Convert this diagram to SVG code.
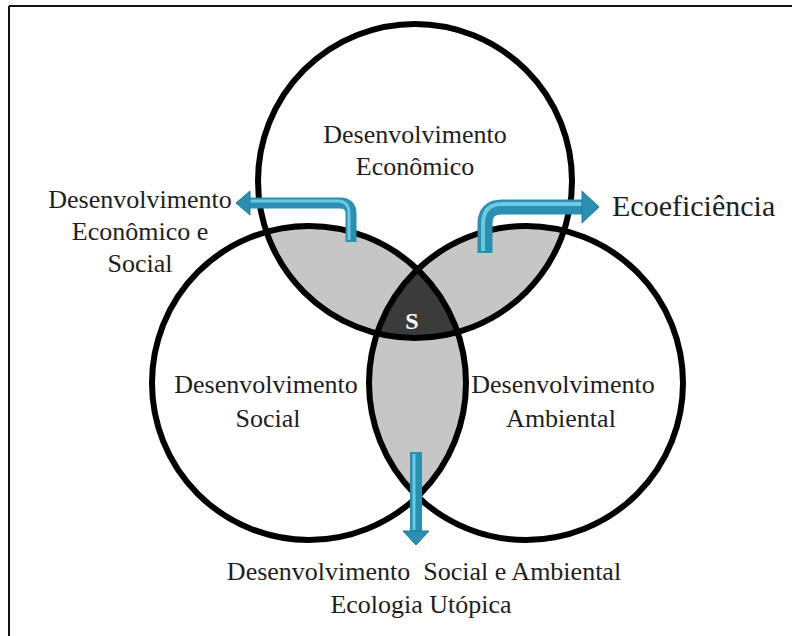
<svg xmlns="http://www.w3.org/2000/svg" width="792" height="636" viewBox="0 0 792 636">
<style>
text{font-family:"Liberation Serif","Times New Roman",serif;font-size:26px;fill:#1e1e1e;text-anchor:middle;white-space:pre}
.ring{fill:none;stroke:#000;stroke-width:6}
.arrow{fill:none;stroke:#2a8fb0;stroke-linecap:butt}
.hl{fill:none;stroke:#6cc9e2;stroke-linecap:butt}
.head{fill:#2a8fb0;stroke:#1f7a96;stroke-width:1}
</style>
<defs>
<clipPath id="cT"><circle cx="415" cy="181" r="157"/></clipPath>
<clipPath id="cL"><circle cx="309" cy="383" r="157"/></clipPath>
<clipPath id="cR"><circle cx="526" cy="383" r="157"/></clipPath>
</defs>
<rect width="792" height="636" fill="#fff"/>
<line x1="9" y1="6" x2="792" y2="6" stroke="#111" stroke-width="2"/>
<line x1="9" y1="6" x2="9" y2="636" stroke="#111" stroke-width="2"/>
<g id="overlaps">
<g clip-path="url(#cT)"><circle cx="309" cy="383" r="157" fill="#c6c6c6"/><circle cx="526" cy="383" r="157" fill="#c6c6c6"/></g>
<g clip-path="url(#cL)"><circle cx="526" cy="383" r="157" fill="#c6c6c6"/></g>
<g clip-path="url(#cT)"><g clip-path="url(#cL)"><circle cx="526" cy="383" r="157" fill="#3b3b3b"/></g></g>
</g>
<g id="economico"><circle class="ring" cx="415" cy="181" r="157"/><text x="415" y="143">Desenvolvimento</text><text x="415" y="175">Econômico</text></g>
<g id="social"><circle class="ring" cx="309" cy="383" r="157"/><text x="266" y="393">Desenvolvimento</text><text x="268" y="427">Social</text></g>
<g id="ambiental"><circle class="ring" cx="526" cy="383" r="157"/><text x="563" y="393">Desenvolvimento</text><text x="561" y="427">Ambiental</text></g>
<g id="sustentavel"><text x="412" y="329" style="fill:#fff;font-size:24px;font-weight:bold">S</text></g>
<g id="connectors">
<path class="arrow" stroke-width="11" d="M351,242 V214 Q351,203 340,203 H249"/>
<path class="hl" stroke-width="3" d="M349,240 V214 Q349,201 338,201 H250"/>
<polygon class="head" points="236,203 250,191 250,215"/>
<path class="arrow" stroke-width="15" d="M485,253 V224 Q485,207 502,207 H583"/>
<path class="hl" stroke-width="4" d="M483,251 V224 Q483,204 502,204 H583"/>
<polygon class="head" points="599,207 582,191 582,223"/>
<path class="arrow" stroke-width="12" d="M416,452 V532"/>
<path class="hl" stroke-width="3" d="M414,454 V530"/>
<polygon class="head" points="416,545 403,531 429,531"/>
</g>
<g id="label-econ-social"><text x="140" y="208">Desenvolvimento</text><text x="140" y="240">Econômico e</text><text x="140" y="272">Social</text></g>
<g id="label-ecoeficiencia"><text x="612" y="216" style="text-anchor:start;font-size:30px">Ecoeficiência</text></g>
<g id="label-social-ambiental"><text x="424" y="580">Desenvolvimento  Social e Ambiental</text><text x="421" y="613">Ecologia Utópica</text></g>
</svg>
